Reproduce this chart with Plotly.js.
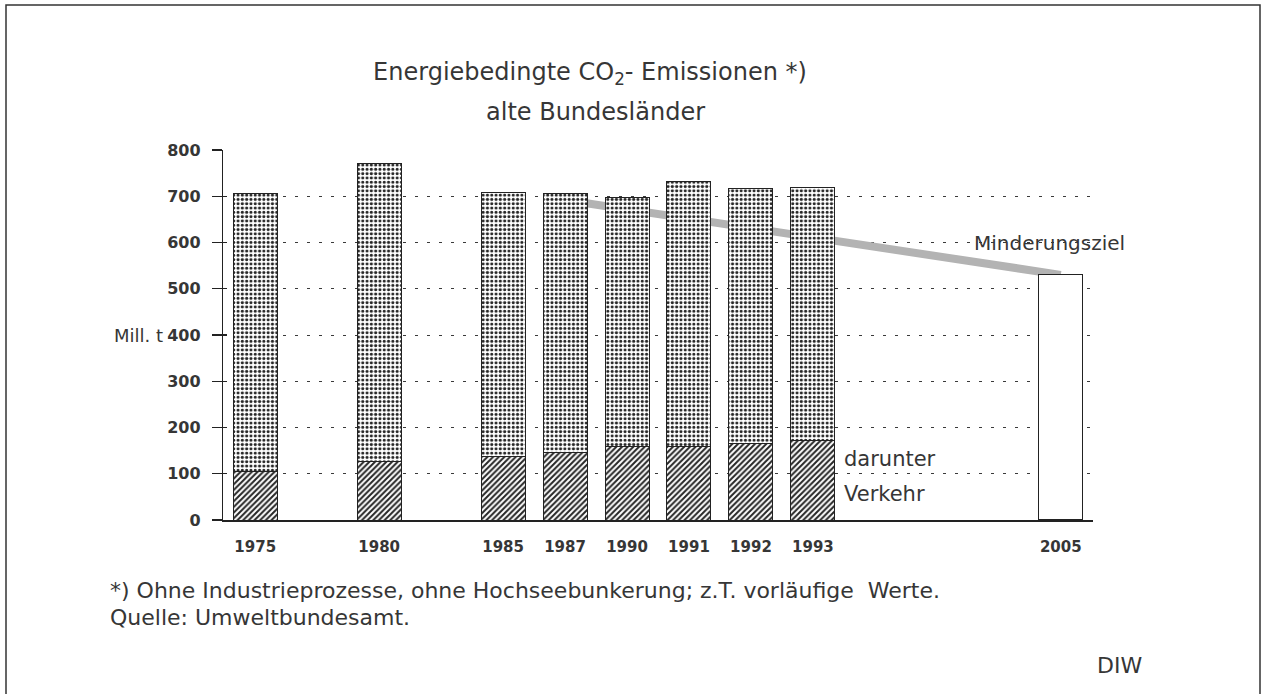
<!DOCTYPE html>
<html>
<head>
<meta charset="utf-8">
<script src="https://cdn.plot.ly/plotly-3.0.1.min.js"></script>
<style>html,body{margin:0;padding:0;background:#fff;}#chart{width:1267px;height:694px;}</style>
</head>
<body>
<div id="chart"></div>
<script>
// ---- data ----
const years = ['1975','1980','1985','1987','1990','1991','1992','1993'];
const totalEmissions = [705, 770, 709, 705, 698, 731, 717, 720];   // Mill. t CO2
const verkehrEmissions = [105, 126, 138, 145, 158, 160, 165, 172]; // darunter Verkehr
const targetYear = ['2005'];
const targetValue = [530];
const zielYears = ['1987', '2005'];
const zielValues = [692, 530];
// axis slots (blank slots keep the gaps between the years)
const axisSlots = ['1975','g1','1980','g2','1985','1987','1990','1991','1992','1993','g3','g4','g5','2005'];
const tickYears = years.concat(targetYear);
const yTicks = [0,100,200,300,400,500,600,700,800];

const rest = totalEmissions.map((t, i) => t - verkehrEmissions[i]);

const FONT = 'DejaVu Sans, Liberation Sans, Arial, sans-serif';
const TXT = '#363636';

const traces = [
  { // Minderungsziel band (behind bars)
    type: 'scatter', mode: 'lines', x: zielYears, y: zielValues,
    xaxis: 'x', yaxis: 'y',
    line: {color: '#b3b3b3', width: 8}, hoverinfo: 'skip', showlegend: false
  },
  {
    type: 'bar', x: years, y: verkehrEmissions, xaxis: 'x2', yaxis: 'y2',
    width: 0.71,
    marker: {color: '#ffffff', line: {color: '#222', width: 1},
      pattern: {shape: '/', fgcolor: '#262626', bgcolor: '#ffffff', size: 4, solidity: 0.5}},
    showlegend: false
  },
  {
    type: 'bar', x: years, y: rest, xaxis: 'x2', yaxis: 'y2',
    width: 0.71,
    marker: {color: '#ffffff', line: {color: '#222', width: 1},
      pattern: {shape: '.', fgcolor: '#262626', bgcolor: '#ffffff', size: 4.3, solidity: 0.42}},
    showlegend: false
  },
  {
    type: 'bar', x: targetYear, y: targetValue, xaxis: 'x2', yaxis: 'y2',
    width: 0.71,
    marker: {color: '#ffffff', line: {color: '#222', width: 1.2}},
    showlegend: false
  }
];

const xRange = [-0.52, 13.52];
const layout = {
  width: 1267, height: 694,
  margin: {l: 223, r: 174, t: 150, b: 174},
  paper_bgcolor: '#ffffff', plot_bgcolor: '#ffffff',
  font: {family: FONT, color: TXT},
  barmode: 'stack',
  bargap: 0,
  title: {
    text: 'Energiebedingte CO<sub>2</sub>- Emissionen *)',
    font: {family: FONT, size: 24, color: TXT},
    xref: 'paper', x: 0.4218, xanchor: 'center',
    yref: 'container', y: 1 - 72/694, yanchor: 'middle'
  },
  xaxis: {
    type: 'category', categoryorder: 'array', categoryarray: axisSlots,
    tickmode: 'array', tickvals: tickYears, ticktext: tickYears,
    range: xRange, showgrid: false, zeroline: false,
    showline: true, linecolor: '#222', linewidth: 1.5,
    ticks: '', tickfont: {family: FONT, size: 15, color: TXT, weight: 'bold'},
    ticklabelstandoff: 12
  },
  yaxis: {
    range: [0, 800], tickvals: yTicks, ticktext: yTicks.map(String),
    showgrid: true, gridcolor: '#3a3a3a', gridwidth: 1, griddash: '3px,9px',
    zeroline: false, showline: true, linecolor: '#222', linewidth: 1.2,
    ticks: 'outside', ticklen: 10, tickcolor: '#222', tickwidth: 1.2,
    tickfont: {family: FONT, size: 16, color: TXT, weight: 'bold'},
    ticklabelstandoff: 8
  },
  xaxis2: {
    type: 'category', categoryorder: 'array', categoryarray: axisSlots,
    range: xRange, overlaying: 'x', showgrid: false, zeroline: false,
    showline: false, ticks: '', showticklabels: false
  },
  yaxis2: {
    range: [0, 800], tickvals: yTicks, overlaying: 'y', side: 'left',
    showgrid: false, zeroline: false, showline: false,
    ticks: 'inside', ticklen: 4, tickcolor: '#222', tickwidth: 1.2, showticklabels: false
  },
  annotations: [
    {text: 'alte Bundesländer', xref: 'paper', yref: 'paper', x: 0.4276, y: 1.1027,
     xanchor: 'center', yanchor: 'middle', showarrow: false, font: {size: 24, color: TXT}},
    {text: 'Minderungsziel', xref: 'paper', yref: 'paper', x: 0.861, y: 0.7486,
     xanchor: 'left', yanchor: 'middle', showarrow: false, font: {size: 20, color: TXT}},
    {text: 'darunter', xref: 'paper', yref: 'paper', x: 0.7115, y: 0.1649,
     xanchor: 'left', yanchor: 'middle', showarrow: false, font: {size: 21, color: TXT}},
    {text: 'Verkehr', xref: 'paper', yref: 'paper', x: 0.7115, y: 0.0703,
     xanchor: 'left', yanchor: 'middle', showarrow: false, font: {size: 21, color: TXT}},
    {text: 'Mill. t', xref: 'paper', yref: 'paper', x: -0.067, y: 0.5,
     xanchor: 'right', yanchor: 'middle', showarrow: false, font: {size: 18, color: TXT}},
    {text: '*) Ohne Industrieprozesse, ohne Hochseebunkerung; z.T. vorläufige  Werte.',
     xref: 'paper', yref: 'paper', x: -0.1322, y: -0.1892,
     xanchor: 'left', yanchor: 'middle', showarrow: false, font: {size: 22, color: TXT}},
    {text: 'Quelle: Umweltbundesamt.', xref: 'paper', yref: 'paper', x: -0.1322, y: -0.2622,
     xanchor: 'left', yanchor: 'middle', showarrow: false, font: {size: 22, color: TXT}},
    {text: 'DIW', xref: 'paper', yref: 'paper', x: 1.0586, y: -0.3919,
     xanchor: 'right', yanchor: 'middle', showarrow: false, font: {size: 22, color: TXT}}
  ],
  shapes: [
    {type: 'rect', xref: 'paper', yref: 'paper',
     x0: (6-223)/870, x1: (1260-223)/870, y0: (520-705)/370, y1: (520-5)/370,
     line: {color: '#333', width: 1.5}, fillcolor: 'rgba(0,0,0,0)', layer: 'below'}
  ]
};

Plotly.newPlot('chart', traces, layout, {displayModeBar: false, staticPlot: true});
</script>
</body>
</html>
